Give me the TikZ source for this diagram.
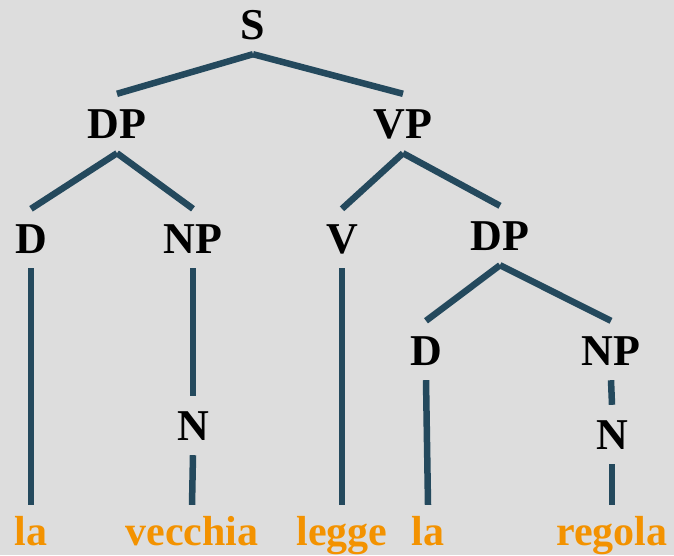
\documentclass[tikz,border=0pt]{standalone}
\usepackage{fontspec}
\setmainfont{Liberation Serif}
\definecolor{bgc}{HTML}{DDDDDD}
\definecolor{edgec}{HTML}{24495D}
\definecolor{wordc}{HTML}{F39200}
\tikzset{
  lab/.style={anchor=base, inner xsep=0pt, inner ysep=15pt, text height=29pt, text depth=0pt,
    font=\fontsize{44}{48}\selectfont\bfseries, text=black},
  word/.style={anchor=base, inner xsep=0pt, inner ysep=10pt, text height=30pt, text depth=0pt,
    font=\fontsize{42}{46}\selectfont\bfseries, text=wordc},
  edge/.style={draw=edgec, line width=6.5pt, line cap=butt}
}
\begin{document}
\begin{tikzpicture}[x=1pt,y=-1pt]
\fill[bgc] (0,0) rectangle (674,555);
\useasboundingbox (0,0) rectangle (674,555);
\node[lab] (S) at (253,39) {S};
\node[lab] (DP1) at (117,138) {DP};
\node[lab] (VP) at (403,138) {VP};
\node[lab] (D1) at (31,253) {D};
\node[lab] (NP1) at (193,253) {NP};
\node[lab] (V) at (342,253) {V};
\node[lab] (DP2) at (500,250) {DP};
\node[lab] (D2) at (426,365) {D};
\node[lab] (NP2) at (611,365) {NP};
\node[lab] (N1) at (193,440) {N};
\node[lab] (N2) at (612,449) {N};
\node[word] (w1) at (31,545) {la};
\node[word] (w2) at (192,545) {vecchia};
\node[word] (w3) at (342,545) {legge};
\node[word] (w4) at (428,545) {la};
\node[word] (w5) at (612,545) {regola};
\draw[edge] (S.south) -- (DP1.north);
\draw[edge] (S.south) -- (VP.north);
\draw[edge] (DP1.south) -- (D1.north);
\draw[edge] (DP1.south) -- (NP1.north);
\draw[edge] (VP.south) -- (V.north);
\draw[edge] (VP.south) -- (DP2.north);
\draw[edge] (DP2.south) -- (D2.north);
\draw[edge] (DP2.south) -- (NP2.north);
\draw[edge] (D1.south) -- (w1.north);
\draw[edge] (NP1.south) -- (N1.north);
\draw[edge] (N1.south) -- (w2.north);
\draw[edge] (V.south) -- (w3.north);
\draw[edge] (D2.south) -- (w4.north);
\draw[edge] (NP2.south) -- (N2.north);
\draw[edge] (N2.south) -- (w5.north);
\end{tikzpicture}
\end{document}
